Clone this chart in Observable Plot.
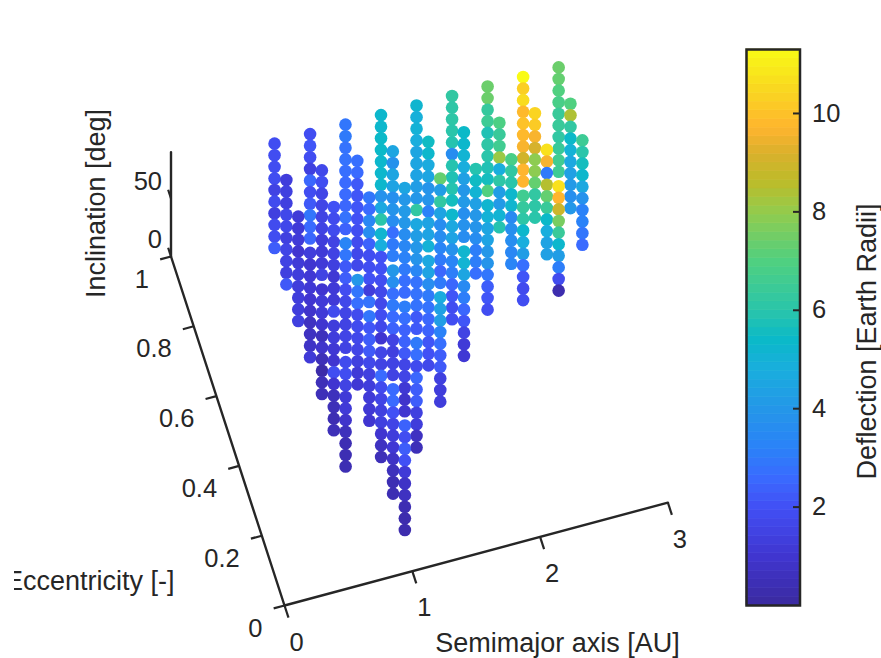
<!DOCTYPE html>
<html>
<head>
<meta charset="utf-8">
<script src="https://cdn.jsdelivr.net/npm/d3@7"></script>
<script src="https://cdn.jsdelivr.net/npm/@observablehq/plot@0.6"></script>
<style>
html,body{margin:0;padding:0;background:#fff;overflow:hidden}
#fig{position:relative;width:881px;height:658px;overflow:hidden}
#fig svg{position:absolute;top:0;background:transparent}
#edge{position:absolute;left:0;top:560px;width:14px;height:40px;background:#fff}
</style>
</head>
<body>
<div id="fig"></div>
<script>
// Grid values
const semimajor = [0.765, 1.043, 1.32, 1.598, 1.876, 2.154, 2.432, 2.71, 2.988];
const eccentricity = [0.949, 0.845, 0.74, 0.636, 0.531, 0.427, 0.323, 0.218, 0.114];
const inclination = [90, 80, 70, 60, 50, 40, 30, 20, 10, 0];

// Deflection [Earth radii]: one list per eccentricity step, inclination high to low
const deflectionA0 = [
  [1.9,1.9,1.9,1.9,1.5,1.8,1.4,1.8,1.9,2.3],
  [1.3,1.4,1.4,1.7,1.7,1.4,1.6,1.5,1.4,2.2],
  [1.2,1.2,1.2,1.0,1.2,1.3,1.3,1.3,1.3,1.4],
  [1.3,1.0,1.1,1.1,1.0,0.9,0.7,0.7,0.8,1.2],
  [1.0,1.2,1.2,1.0,0.6,0.9,0.5,0.2,0.5,0.5],
  [1.3,1.3,1.1,1.0,1.9,1.0,0.6,0.5,0.4,0.5],
  [1.8,1.9,1.5,1.2,1.2,0.9,0.6,0.4,0.4,0.4]
];
const deflectionA1 = [
  [1.9,2.1,1.9,1.4,2.5,1.9,2.2,2.9,2.6,2.5],
  [1.7,1.9,1.6,1.6,1.5,1.5,1.3,1.2,1.2,1.5],
  [2.0,1.8,1.8,1.5,1.5,1.4,1.1,1.2,1.2,1.8],
  [3.3,2.9,2.2,2.3,1.9,1.7,1.6,1.5,1.6,1.5],
  [4.0,2.9,2.7,1.8,1.8,1.7,1.6,1.4,1.2,1.1],
  [2.9,2.1,2.3,2.2,1.7,1.4,1.3,1.2,1.1,1.0],
  [1.6,1.5,2.6,1.8,1.6,1.4,1.4,1.0,0.7,0.5],
  [2.6,2.6,2.0,1.6,1.3,1.1,0.8,0.6,0.4,0.4],
  [2.4,1.9,2.3,2.0,1.2,0.8,0.7,0.4,0.3,0.3]
];
const deflectionA2 = [
  [2.9,3.0,2.8,2.8,2.7,2.6,2.6,2.5,2.8,2.4],
  [2.7,2.6,2.2,2.1,2.1,2.0,1.9,1.8,1.7,1.7],
  [2.9,2.6,3.4,3.6,2.4,1.9,1.9,2.0,1.3,2.8],
  [5.2,4.8,2.0,2.0,1.9,1.7,1.7,1.9,1.7,1.0],
  [4.0,3.7,2.7,3.0,2.6,2.4,1.5,1.4,1.5,1.5],
  [3.1,2.7,2.4,2.4,2.2,1.6,1.6,1.1,0.9,1.0],
  [3.0,2.7,1.8,2.5,2.3,2.3,1.4,1.3,0.7,0.5]
];
const deflectionA3 = [
  [5.3,5.3,5.4,5.4,5.3,5.3,5.3,3.8,4.6,6.0],
  [4.5,3.8,4.5,4.4,3.7,3.9,3.6,2.7,3.0,3.1],
  [4.5,4.0,4.1,4.0,3.6,3.4,3.2,3.0,2.7,2.6],
  [4.6,4.2,4.0,3.9,3.4,2.8,2.8,2.8,2.2,2.2],
  [4.6,4.4,3.6,3.0,2.8,2.5,2.4,2.1,2.0,1.7],
  [4.7,4.3,4.2,3.2,2.7,2.3,2.2,1.4,1.3,1.3]
];
const deflectionA4 = [
  [5.2,4.9,5.0,4.8,4.5,4.5,4.4,4.2,4.0,6.2],
  [5.5,5.3,4.7,4.5,3.9,3.9,3.2,4.4,4.4,5.0],
  [7.3,4.2,6.2,4.4,3.6,3.6,3.3,3.0,2.5,3.0],
  [5.3,4.6,4.4,3.8,3.3,3.1,2.5,2.1,1.9,1.9],
  [5.2,5.1,4.5,3.5,3.1,2.5,2.1,1.5,1.2,1.1]
];
const deflectionA5 = [
  [6.2,6.1,6.1,6.0,5.9,3.6,5.9,5.8,5.9,5.6],
  [5.4,5.3,5.1,4.8,4.3,4.0,4.1,3.7,3.8,3.6],
  [5.9,5.5,5.1,4.3,4.0,3.9,3.6,3.1,3.1,2.7],
  [5.2,5.0,4.5,4.4,4.0,3.9,2.9,2.3,2.1,1.9]
];
const deflectionA6 = [
  [7.4,7.4,6.3,6.5,5.8,6.1,6.0,5.8,5.6,7.0],
  [6.9,6.4,6.6,8.1,4.8,6.1,4.2,4.1,5.1,5.9],
  [6.8,6.2,6.0,5.3,5.2,3.5,3.7,3.6,3.4,3.3],
  [6.6,6.3,6.1,5.3,4.8,4.2,2.7,2.1,1.8,1.9]
];
const deflectionA7 = [
  [11.3,10.3,10.6,9.8,10.0,9.8,9.6,9.0,9.7,9.7],
  [10.4,10.2,9.6,9.1,7.9,7.9,7.3,6.2,6.1,6.0],
  [10.7,9.6,3.0,8.5,7.3,6.4,5.4,4.8,4.4,4.3],
  [10.7,9.7,8.9,7.6,6.4,5.3,4.2,3.1,1.8,0.3]
];
const deflectionA8 = [
  [7.4,7.3,7.0,6.8,6.4,6.4,6.2,6.4,6.6,6.5],
  [7.0,8.4,6.2,5.4,5.0,4.6,4.3,4.1,3.7,4.0],
  [6.5,6.0,5.6,5.3,4.6,3.8,3.2,3.2,2.9,2.6]
];
const deflection = [deflectionA0,deflectionA1,deflectionA2,deflectionA3,deflectionA4,deflectionA5,deflectionA6,deflectionA7,deflectionA8];

const semimajorTicks = [0, 1, 2, 3];
const eccentricityTicks = [0, 0.2, 0.4, 0.6, 0.8, 1];
const inclinationTicks = [0, 50];
const colorTicks = [2, 4, 6, 8, 10];

// Parula-like colormap
const colorStops = [0, 1, 2, 2.6, 3.2, 4, 4.8, 5.4, 6, 7, 8, 8.6, 9.2, 9.7, 10.5, 11.3];
const colorValues = ["#3b2a9f","#4035d0","#4150f5","#3a6bff","#2a82f8","#2497e8","#19aedd","#0bb9c8","#2ac5aa","#50d080","#94cb4c","#bcbc2a","#dbb02c","#ffb52e","#f9d820","#f9fb15"];
const colorOptions = {type:"linear", domain:colorStops, range:colorValues, interpolate:"rgb"};

// 3D axes projected onto the page
const origin = [284, 605];
const aVector = [127.8, -34.3];
const eVector = [-113.5, -349];
const iVector = [0, -1.16];
const px = d => origin[0] + d.a*aVector[0] + d.e*eVector[0] + d.i*iVector[0];
const py = d => origin[1] + d.a*aVector[1] + d.e*eVector[1] + d.i*iVector[1];

const points = [];
deflection.forEach((cols, k) => cols.forEach((list, m) => list.forEach((v, j) =>
  points.push({a:semimajor[k], e:eccentricity[m], i:inclination[j], v})
)));
// far columns first
points.sort((p, q) => (q.a*34.3 + q.e*349) - (p.a*34.3 + p.e*349));

const ink = "#262626";
const font = "'Liberation Sans', Arial, sans-serif";
const fs = 25.5;
const titleSize = 27;

const main = Plot.plot({
  width:881, height:658, margin:0,
  style:{fontFamily:font, background:"transparent"},
  x:{domain:[0,881], range:[0,881], axis:null},
  y:{domain:[0,658], range:[0,658], axis:null},
  color:colorOptions,
  marks:[
    Plot.line([{a:0,e:0,i:0},{a:3,e:0,i:0}], {x:px, y:py, stroke:ink, strokeWidth:2.4}),
    Plot.line([{a:0,e:0,i:0},{a:0,e:1,i:0}], {x:px, y:py, stroke:ink, strokeWidth:2.4}),
    Plot.line([{a:0,e:1,i:0},{a:0,e:1,i:90}], {x:px, y:py, stroke:ink, strokeWidth:2.4}),
    Plot.link(semimajorTicks, {
      x1:a=>px({a,e:0,i:0}), y1:a=>py({a,e:0,i:0}),
      x2:a=>px({a,e:-0.035,i:0}), y2:a=>py({a,e:-0.035,i:0}),
      stroke:ink, strokeWidth:2.2}),
    Plot.link(eccentricityTicks, {
      x1:e=>px({a:0,e,i:0}), y1:e=>py({a:0,e,i:0}),
      x2:e=>px({a:-0.085,e,i:0}), y2:e=>py({a:-0.085,e,i:0}),
      stroke:ink, strokeWidth:2.2}),
    Plot.link(inclinationTicks, {
      x1:i=>px({a:0,e:1,i}), y1:i=>py({a:0,e:1,i}),
      x2:i=>px({a:0,e:1.025,i}), y2:i=>py({a:0,e:1.025,i}),
      stroke:ink, strokeWidth:2.2}),
    Plot.dot(points, {x:px, y:py, r:6.3, fill:"v"}),
    Plot.text(semimajorTicks, {
      x:a=>px({a,e:0,i:0}), y:a=>py({a,e:0,i:0}), text:d=>String(d),
      dx:12, dy:37, fontSize:fs, fill:ink}),
    Plot.text(eccentricityTicks, {
      x:e=>px({a:0,e,i:0}), y:e=>py({a:0,e,i:0}), text:d=>String(d),
      dx:-22, dy:23, textAnchor:"end", fontSize:fs, fill:ink}),
    Plot.text(inclinationTicks, {
      x:i=>px({a:0,e:1,i}), y:i=>py({a:0,e:1,i}), text:d=>String(d),
      dx:-9, dy:-17, textAnchor:"end", fontSize:fs, fill:ink}),
    Plot.text(["Semimajor axis [AU]"], {frameAnchor:"top-left", textAnchor:"middle", lineAnchor:"middle", text:d=>d, dx:557, dy:643, fontSize:titleSize, fill:ink}),
    Plot.text(["Eccentricity [-]"], {frameAnchor:"top-left", textAnchor:"end", lineAnchor:"middle", text:d=>d, dx:174, dy:581, fontSize:titleSize, fill:ink}),
    Plot.text(["Inclination [deg]"], {frameAnchor:"top-left", textAnchor:"middle", lineAnchor:"middle", text:d=>d, dx:96, dy:203, rotate:-90, fontSize:titleSize, fill:ink})
  ]
});
main.style.left = "0px";

const levelCount = 64;
const colorMax = 11.3;
const levels = d3.range(levelCount).map(n => ({
  y1:n*colorMax/levelCount, y2:(n+1)*colorMax/levelCount, v:(n+0.5)*colorMax/levelCount
}));

const bar = Plot.plot({
  width:140, height:658,
  marginLeft:5, marginRight:81.5, marginTop:49, marginBottom:53,
  style:{fontFamily:font, background:"transparent"},
  y:{domain:[0,colorMax], axis:null},
  color:colorOptions,
  marks:[
    Plot.rectY(levels, {y1:"y1", y2:"y2", fill:"v", stroke:"v", strokeWidth:0.6}),
    Plot.ruleY(colorTicks, {stroke:ink, strokeWidth:2, insetLeft:47}),
    Plot.frame({stroke:ink, strokeWidth:2.5}),
    Plot.axisY(colorTicks, {anchor:"right", tickSize:0, tickPadding:12, label:null, fontSize:fs, color:ink}),
    Plot.text(["Deflection [Earth Radii]"], {frameAnchor:"top-left", textAnchor:"middle", lineAnchor:"middle", text:d=>d, dx:121, dy:292, rotate:-90, fontSize:titleSize, fill:ink})
  ]
});
bar.style.left = "741px";

const fig = document.getElementById("fig");
fig.append(main, bar);
const edge = document.createElement("div");
edge.id = "edge";
fig.append(edge);
</script>
</body>
</html>
